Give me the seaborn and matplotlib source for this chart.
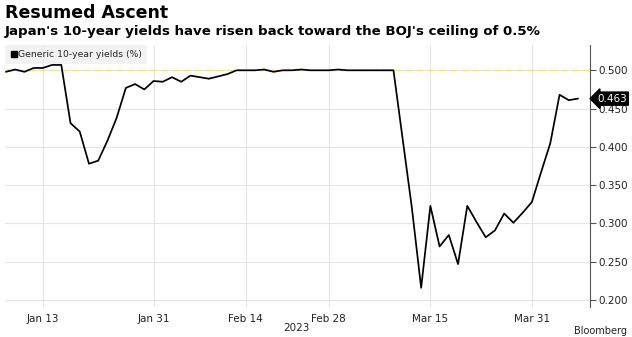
import numpy as np
import pandas as pd
import matplotlib
matplotlib.use("Agg")
import matplotlib.pyplot as plt
import matplotlib.transforms as mtrans
from matplotlib.lines import Line2D
import seaborn as sns

# ---- data ----
dates = (
    ["2023-01-%02d" % d for d in [6, 10, 11, 12, 13, 16, 17, 18, 19, 20, 23, 24, 25, 26, 27, 30, 31]]
    + ["2023-02-%02d" % d for d in [1, 2, 3, 6, 7, 8, 9, 10, 13, 14, 15, 16, 17, 20, 21, 22, 24, 27, 28]]
    + ["2023-03-%02d" % d for d in [1, 2, 3, 6, 7, 8, 9, 10, 13, 14, 15, 16, 17, 20, 22, 23, 24, 27, 28, 29, 30, 31]]
    + ["2023-04-%02d" % d for d in [3, 4, 5, 6, 7]]
)
yields = [
    0.498, 0.501, 0.498, 0.503, 0.503, 0.507, 0.507, 0.431, 0.420, 0.378, 0.382, 0.408, 0.438, 0.477, 0.482, 0.475, 0.486,
    0.485, 0.491, 0.485, 0.493, 0.491, 0.489, 0.492, 0.495, 0.500, 0.500, 0.500, 0.501, 0.498, 0.500, 0.500, 0.501, 0.500, 0.500, 0.500,
    0.501, 0.500, 0.500, 0.500, 0.500, 0.500, 0.500, 0.410, 0.320, 0.216, 0.323, 0.270, 0.285, 0.247, 0.323, 0.302, 0.282, 0.291, 0.313, 0.301, 0.314, 0.328,
    0.367, 0.405, 0.468, 0.461, 0.463,
]
tick_dates = ["2023-01-13", "2023-01-31", "2023-02-14", "2023-02-28", "2023-03-15", "2023-03-31"]
tick_labels = ["Jan 13", "Jan 31", "Feb 14", "Feb 28", "Mar 15", "Mar 31"]
y_ticks = [0.200, 0.250, 0.300, 0.350, 0.400, 0.450, 0.500]
ceiling = 0.5
last_value = 0.463
series_name = "Generic 10-year yields (%)"
title = "Resumed Ascent"
subtitle = "Japan's 10-year yields have risen back toward the BOJ's ceiling of 0.5%"
year_label = "2023"
source = "Bloomberg"

df = pd.DataFrame({"date": dates, "yield": yields})
df["pos"] = np.arange(len(df))

sns.set_style("white")
plt.rcParams["font.family"] = ["DejaVu Sans"]

fig = plt.figure(figsize=(6.32, 3.37), dpi=100)
ax = fig.add_axes([5 / 632, 1 - 307 / 337, 585 / 632, 262 / 337])

sns.lineplot(data=df, x="pos", y="yield", color="black", linewidth=1.25, ax=ax, legend=False, zorder=3)
ax.axhline(ceiling, color="#f3e27a", linestyle=(0, (5, 3)), linewidth=1.0, zorder=2)

ax.set_xlim(-0.1, 63.3)
ax.set_ylim(0.191, 0.533)

tick_pos = [int(df.index[df["date"] == d][0]) for d in tick_dates]
ax.set_xticks(tick_pos)
ax.set_xticklabels(tick_labels, fontsize=7.5, color="#222222")
ax.set_yticks(y_ticks)
ax.set_yticklabels(["%.3f" % v for v in y_ticks], fontsize=7.5, color="#222222")
ax.yaxis.tick_right()
ax.tick_params(axis="y", direction="out", length=4, width=0.8, color="#555555", pad=2)
ax.tick_params(axis="x", length=0, pad=5)
ax.grid(True, color="#e4e4e4", linewidth=0.8, zorder=0)
ax.set_axisbelow(True)
for s in ["left", "top", "bottom"]:
    ax.spines[s].set_visible(False)
ax.spines["right"].set_color("#555555")
ax.spines["right"].set_linewidth(0.8)
ax.set_xlabel("")
ax.set_ylabel("")

# legend
handle = Line2D([], [], marker="s", color="black", linestyle="none", markersize=5)
leg = ax.legend([handle], [series_name], loc="upper left", bbox_to_anchor=(0, 1.0),
                fontsize=6.7, frameon=True, fancybox=False, handletextpad=0.1,
                handlelength=0.8, borderpad=0.55, borderaxespad=0.0)
leg.get_frame().set_facecolor("#efefef")
leg.get_frame().set_edgecolor("none")

# last value label
trans = mtrans.blended_transform_factory(ax.transAxes, ax.transData)
ax.text(1.012, last_value, "%.3f" % last_value, transform=trans, fontsize=7.5, color="white",
        va="center", ha="left", zorder=5, clip_on=False,
        bbox=dict(boxstyle="larrow,pad=0.15", fc="black", ec="black"))

# year label
fig.text(296 / 632, 1 - 328 / 337, year_label, fontsize=7.5, color="#222222", ha="center", va="center")

# titles
fig.text(5 / 632, 1 - 13 / 337, title, fontsize=12.5, fontweight="bold", color="black", ha="left", va="center")
fig.text(5 / 632, 1 - 32 / 337, subtitle, fontsize=9.6, fontweight="bold", color="black", ha="left", va="center")

fig.text(627 / 632, 1 / 337, source, fontsize=7, color="#222222", ha="right", va="bottom")

fig.savefig("out.png", dpi=100)
